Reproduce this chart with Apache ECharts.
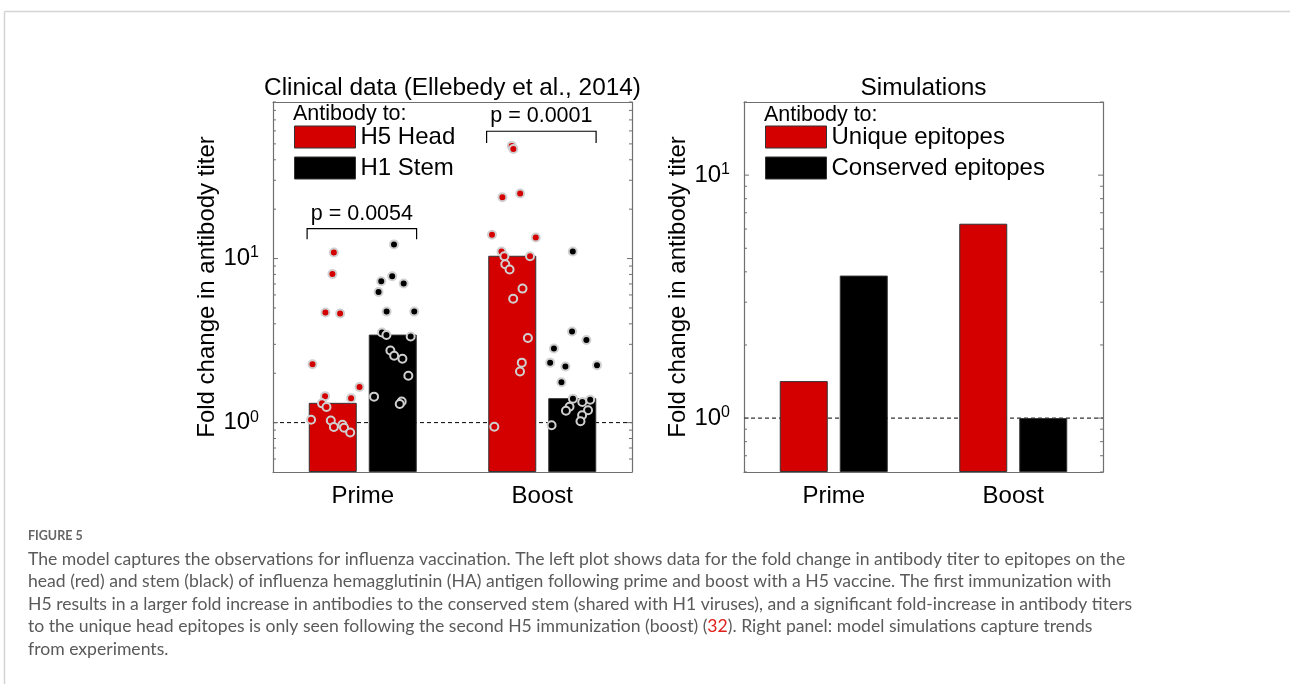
<!DOCTYPE html>
<html>
<head>
<meta charset="utf-8">
<script src="https://cdn.jsdelivr.net/npm/echarts@6/dist/echarts.min.js"></script>
<style>
  html, body { margin: 0; padding: 0; background: #fff; }
  #chart { width: 1290px; height: 684px; }
</style>
</head>
<body>
<div id="chart"></div>
<script>
// categories and bar heights
const categories = ['Prime', 'Boost'];
const headMeans = [1.32, 10.4];
const stemMeans = [3.44, 1.41];
const simUnique = [1.42, 6.31];
const simConserved = [3.86, 1.0];

// individual subjects, [x position, fold change]
const primeHead = [[0.839, 10.9], [0.831, 8.05], [0.792, 4.69], [0.874, 4.62], [0.720, 2.27], [0.982, 1.65],
  [0.790, 1.45], [0.935, 1.41], [0.773, 1.31], [0.798, 1.245], [0.712, 1.04], [0.822, 1.03],
  [0.839, 0.94], [0.887, 0.97], [0.896, 0.93], [0.930, 0.87]];
const primeStem = [[1.174, 12.2], [1.164, 7.80], [1.103, 7.27], [1.228, 7.04], [1.088, 6.26], [1.133, 4.75],
  [1.287, 4.75], [1.107, 3.54], [1.132, 3.42], [1.267, 3.35], [1.154, 2.75], [1.175, 2.555],
  [1.221, 2.45], [1.254, 1.93], [1.063, 1.44], [1.217, 1.345], [1.206, 1.30]];
const boostHead = [[1.830, 48.6], [1.839, 46.6], [1.877, 24.9], [1.778, 23.65], [1.720, 13.97], [1.964, 13.43],
  [1.773, 11.05], [1.789, 10.33], [1.932, 10.33], [1.794, 9.23], [1.818, 8.58], [1.890, 6.56],
  [1.838, 5.69], [1.920, 3.28], [1.886, 2.32], [1.876, 2.05], [1.733, 0.943]];
const boostStem = [[2.170, 11.05], [2.166, 3.59], [2.246, 3.19], [2.065, 2.83], [2.044, 2.32], [2.129, 2.20],
  [2.305, 2.24], [2.107, 1.76], [2.171, 1.40], [2.267, 1.38], [2.223, 1.335], [2.152, 1.25],
  [2.132, 1.18], [2.255, 1.19], [2.222, 1.11], [2.213, 1.02], [2.052, 0.963]];

// significance brackets
const pValues = ['p = 0.0054', 'p = 0.0001'];
const bracketX = [[0.69, 1.30], [1.69, 2.30]];
const bracketTop = [15.2, 59.7];
const bracketEnd = [13.1, 50.7];

// axes
const xLimits = [0.5, 2.5];
const leftYLimits = [0.5, 90];
const rightYLimits = [0.6, 20];
const refLevel = 1;
const majorTicks = [1, 10];
const leftTicks = [0.6, 0.7, 0.8, 0.9, 1, 2, 3, 4, 5, 6, 7, 8, 9, 10, 20, 30, 40, 50, 60, 70, 80, 90];
const rightTicks = [0.6, 0.7, 0.8, 0.9, 1, 2, 3, 4, 5, 6, 7, 8, 9, 10, 20];

const FONT = 'Liberation Sans';
const RED = '#d40000';
const AXIS = '#707070';

const chart = echarts.init(document.getElementById('chart'));

const tickFmt = v => {
  const e = Math.log10(v);
  if (Math.abs(e - Math.round(e)) > 1e-6) return '';
  return '{b|10}{s|' + Math.round(e) + '}';
};

const catAxis = (grid, pos, labels) => ({
  type: 'category', gridIndex: grid, position: pos, data: categories,
  axisLine: { lineStyle: { color: AXIS, width: 1.2 } },
  axisTick: { inside: true, alignWithLabel: true, length: 5, lineStyle: { color: AXIS } },
  axisLabel: { show: labels, fontSize: 24, fontFamily: FONT, color: '#000', margin: 12 },
  splitLine: { show: false }
});
const valXAxis = grid => ({ type: 'value', gridIndex: grid, min: xLimits[0], max: xLimits[1], show: false });
const logAxis = (grid, pos, lim, labels) => ({
  type: 'log', logBase: 10, gridIndex: grid, position: pos, min: lim[0], max: lim[1], startValue: lim[0],
  axisLine: { show: true, lineStyle: { color: AXIS, width: 1.2 } },
  axisTick: { show: false },
  splitLine: { show: false },
  name: labels ? 'Fold change in antibody titer' : '',
  nameLocation: 'middle', nameGap: 54, nameRotate: 90,
  nameTextStyle: { fontSize: 24, fontFamily: FONT, color: '#000' },
  axisLabel: {
    show: labels, margin: 14, formatter: tickFmt,
    rich: {
      b: { fontSize: 24, fontFamily: FONT, color: '#000' },
      s: { fontSize: 16, fontFamily: FONT, color: '#000', padding: [0, 0, 11, 0] }
    }
  }
});

// inward minor/major ticks on both sides of the box
const tickSeries = (xIdx, yIdx, ticks) => ({
  type: 'custom', xAxisIndex: xIdx, yAxisIndex: yIdx, silent: true, z: 5,
  data: ticks.map(v => [xLimits[0], v]),
  encode: { x: 0, y: 1 },
  renderItem: (params, api) => {
    const v = api.value(1);
    const y = api.coord([xLimits[0], v])[1];
    const cs = params.coordSys;
    const len = majorTicks.indexOf(v) >= 0 ? 5 : 3;
    const st = { stroke: AXIS, lineWidth: 1 };
    return {
      type: 'group', children: [
        { type: 'line', shape: { x1: cs.x, y1: y, x2: cs.x + len, y2: y }, style: st },
        { type: 'line', shape: { x1: cs.x + cs.width - len, y1: y, x2: cs.x + cs.width, y2: y }, style: st }
      ]
    };
  }
});

const refLine = (xIdx, yIdx) => ({
  type: 'line', xAxisIndex: xIdx, yAxisIndex: yIdx, silent: true, z: 1,
  data: xLimits.map(x => [x, refLevel]), symbol: 'none',
  lineStyle: { color: '#000', width: 1, type: [4, 3] }
});

const barSeries = (name, data, color, xIdx, yIdx) => ({
  name, type: 'bar', xAxisIndex: xIdx, yAxisIndex: yIdx, data, z: 2,
  barWidth: 48, barGap: '25%',
  itemStyle: { color, borderColor: '#333', borderWidth: 1 }
});

const dotSeries = (name, data, color) => ({
  name, type: 'scatter', xAxisIndex: 2, yAxisIndex: 0, data, z: 3,
  symbol: 'circle', symbolSize: 8,
  itemStyle: { color, borderColor: '#d0d0d0', borderWidth: 2, opacity: 1 }
});

const legendOpt = (left, names) => ({
  left, top: 125, orient: 'vertical', padding: 0, itemWidth: 61, itemHeight: 22, itemGap: 7,
  icon: 'rect', selectedMode: false, data: names,
  itemStyle: { borderColor: '#333', borderWidth: 1 },
  textStyle: { fontSize: 24, fontFamily: FONT, color: '#000' }
});

const txt = (x, y, text, size, align) => ({
  type: 'text', x, y, silent: true,
  style: {
    text, fontSize: size, fontFamily: FONT, fill: '#000',
    align, verticalAlign: 'middle', textAlign: align, textVerticalAlign: 'middle'
  }
});

const capFont = { fontSize: 17.6, fontFamily: 'Lato', fill: '#5a5a5a' };
const capLines = [
  'The model captures the observations for influenza vaccination. The left plot shows data for the fold change in antibody titer to epitopes on the',
  'head (red) and stem (black) of influenza hemagglutinin (HA) antigen following prime and boost with a H5 vaccine. The first immunization with',
  'H5 results in a larger fold increase in antibodies to the conserved stem (shared with H1 viruses), and a significant fold-increase in antibody titers',
  'to the unique head epitopes is only seen following the second H5 immunization (boost) ({r|32}). Right panel: model simulations capture trends',
  'from experiments.'
];

const option = {
  animation: false,
  backgroundColor: '#fff',
  grid: [
    { left: 273, top: 102, width: 359, height: 370 },
    { left: 744, top: 102, width: 359, height: 370 }
  ],
  xAxis: [
    catAxis(0, 'bottom', true), catAxis(0, 'top', false), valXAxis(0),
    catAxis(1, 'bottom', true), catAxis(1, 'top', false), valXAxis(1)
  ],
  yAxis: [
    logAxis(0, 'left', leftYLimits, true), logAxis(0, 'right', leftYLimits, false),
    logAxis(1, 'left', rightYLimits, true), logAxis(1, 'right', rightYLimits, false)
  ],
  legend: [
    legendOpt(294, ['H5 Head', 'H1 Stem']),
    legendOpt(765, ['Unique epitopes', 'Conserved epitopes'])
  ],
  series: [
    refLine(2, 0),
    refLine(5, 2),
    barSeries('H5 Head', headMeans, RED, 0, 0),
    barSeries('H1 Stem', stemMeans, '#000', 0, 0),
    barSeries('Unique epitopes', simUnique, RED, 3, 2),
    barSeries('Conserved epitopes', simConserved, '#000', 3, 2),
    dotSeries('Head subjects', primeHead.concat(boostHead), RED),
    dotSeries('Stem subjects', primeStem.concat(boostStem), '#000'),
    tickSeries(2, 0, leftTicks),
    tickSeries(5, 2, rightTicks),
    {
      type: 'custom', xAxisIndex: 2, yAxisIndex: 0, silent: true, z: 4,
      data: pValues.map((p, i) => [bracketX[i][0], bracketX[i][1], bracketTop[i], bracketEnd[i]]),
      encode: { x: [0, 1], y: [2, 3] },
      renderItem: (params, api) => {
        const a = api.coord([api.value(0), api.value(3)]);
        const b = api.coord([api.value(0), api.value(2)]);
        const c = api.coord([api.value(1), api.value(2)]);
        const d = api.coord([api.value(1), api.value(3)]);
        return {
          type: 'group', children: [
            { type: 'polyline', shape: { points: [a, b, c, d] }, style: { stroke: '#000', lineWidth: 1.2, fill: null } },
            txt((b[0] + c[0]) / 2, b[1] - 15, pValues[params.dataIndex], 21.5, 'center')
          ]
        };
      }
    }
  ],
  graphic: [
    { type: 'line', silent: true, shape: { x1: 4.5, y1: 11.5, x2: 1290, y2: 11.5 }, style: { stroke: '#d3d3d3', lineWidth: 1.5 } },
    { type: 'line', silent: true, shape: { x1: 4.5, y1: 11.5, x2: 4.5, y2: 684 }, style: { stroke: '#d3d3d3', lineWidth: 1.5 } },
    txt(452.5, 88, 'Clinical data (Ellebedy et al., 2014)', 24.4, 'center'),
    txt(923.5, 88, 'Simulations', 24.4, 'center'),
    txt(293, 114, 'Antibody to:', 21.5, 'left'),
    txt(764, 115, 'Antibody to:', 21.5, 'left'),
    {
      type: 'text', x: 28, y: 536, silent: true,
      style: { text: 'FIGURE 5', fontSize: 12.5, fontWeight: 'bold', fontFamily: 'Lato', fill: '#666',
        verticalAlign: 'middle', textVerticalAlign: 'middle' }
    }
  ].concat(capLines.map((t, i) => ({
    type: 'text', x: 28, y: 559 + i * 22.6, silent: true,
    style: Object.assign({
      text: t, verticalAlign: 'middle', textVerticalAlign: 'middle',
      rich: { r: { fontSize: 17.6, fontFamily: 'Lato', fill: '#e0201b' } }
    }, capFont)
  })))
};

chart.setOption(option);
window.addEventListener('resize', () => chart.resize());
</script>
</body>
</html>
